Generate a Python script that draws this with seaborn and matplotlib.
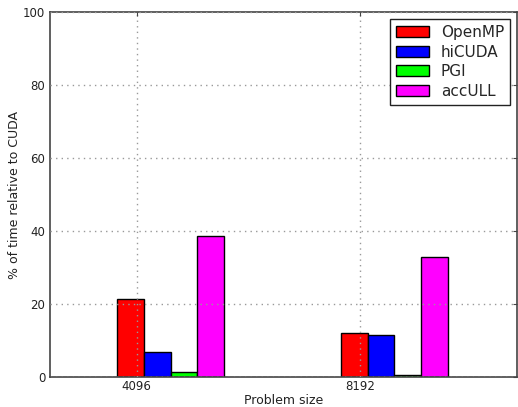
import pandas as pd
import matplotlib
matplotlib.use('Agg')
import matplotlib.pyplot as plt
import seaborn as sns

# Data
sizes = ['4096', '8192']
compilers = ['OpenMP', 'hiCUDA', 'PGI', 'accULL']
openmp = [21.5, 12.1]
hicuda = [7.0, 11.7]
pgi = [1.4, 0.55]
accull = [38.8, 32.9]
colors = ['#ff0000', '#0000ff', '#00ff00', '#ff00ff']

rows = []
for name, vals in zip(compilers, [openmp, hicuda, pgi, accull]):
    for s, v in zip(sizes, vals):
        rows.append({'size': s, 'compiler': name, 'pct': v})
df = pd.DataFrame(rows)

sns.set_style('white')
plt.rcParams['font.family'] = ['DejaVu Sans']

fig = plt.figure(figsize=(5.18, 4.07), dpi=100)
ax = fig.add_axes([0.0965, 0.073, 0.9015, 0.8975])

sns.barplot(data=df, x='size', y='pct', hue='compiler', hue_order=compilers,
            palette=colors, width=0.477, saturation=1, edgecolor='black',
            linewidth=1, ax=ax)

# ticks sit a bit left of the group centres, like the original
ax.set_xticks([-0.152, 0.848], sizes)
ax.set_xlim(-0.540, 1.548)
ax.set_ylim(0, 100)
ax.set_yticks(range(0, 101, 20))
ax.grid(True, linestyle=(0, (1, 3)), color='#999999', linewidth=1)
ax.set_axisbelow(False)
ax.tick_params(direction='in', length=3, top=True, right=True,
               labelsize=8.5, color='#444444', labelcolor='#222222')
ax.tick_params(axis='x', pad=2)
for sp in ax.spines.values():
    sp.set_color('#444444')
    sp.set_linewidth(1.2)

ax.set_xlabel('Problem size', fontsize=9, labelpad=1, color='#222222')
ax.set_ylabel('% of time relative to CUDA', fontsize=9, labelpad=1,
              color='#222222')

leg = ax.legend(loc='upper right', fontsize=11, fancybox=False,
                edgecolor='#222222', framealpha=1, handlelength=2.1,
                labelspacing=0.3, borderpad=0.4, borderaxespad=0.45)
leg.get_frame().set_linewidth(1)

fig.savefig('out.png', dpi=100)
